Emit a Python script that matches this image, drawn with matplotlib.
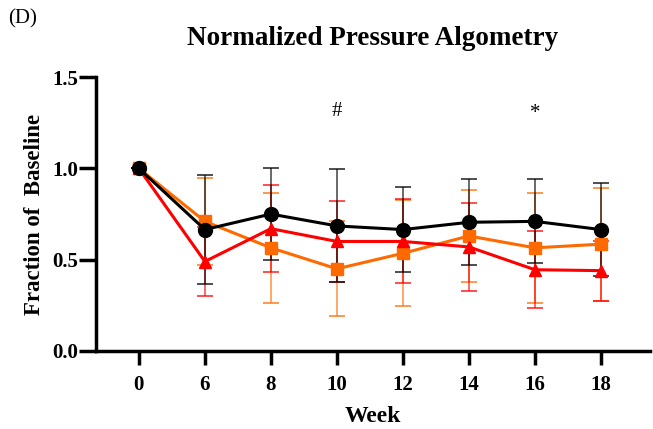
import matplotlib
matplotlib.use("Agg")
import matplotlib.pyplot as plt
import numpy as np

weeks = ["0", "6", "8", "10", "12", "14", "16", "18"]

black_mean = [1.0, 0.665, 0.75, 0.685, 0.665, 0.705, 0.71, 0.665]
black_err = [0.0, 0.30, 0.25, 0.31, 0.235, 0.235, 0.23, 0.255]

orange_mean = [1.0, 0.71, 0.565, 0.45, 0.535, 0.63, 0.565, 0.585]
orange_err = [0.0, 0.24, 0.30, 0.26, 0.29, 0.25, 0.30, 0.31]

red_mean = [1.0, 0.49, 0.67, 0.60, 0.60, 0.57, 0.445, 0.44]
red_err = [0.0, 0.19, 0.24, 0.22, 0.23, 0.24, 0.21, 0.165]

marks = [("#", 3, 1.31), ("*", 6, 1.30)]

plt.rcParams['font.family'] = ['Liberation Serif', 'DejaVu Serif']

fig = plt.figure(figsize=(6.53, 4.29), dpi=100)
ax = fig.add_axes([0.147, 0.182, 0.848, 0.638])

x = np.arange(len(weeks))
series = [
    (orange_mean, orange_err, "#ff6a00", "s", 9),
    (red_mean, red_err, "#ff0000", "^", 9),
    (black_mean, black_err, "black", "o", 10),
]
for mean, err, col, mk, ms in series:
    eb = ax.errorbar(x, mean, yerr=err, color=col, marker=mk, markersize=ms,
                     lw=2.2, elinewidth=1.1, capsize=6, capthick=1.3,
                     ecolor=col)
    for part in eb[1]:
        part.set_alpha(0.75)
    for part in eb[2]:
        part.set_alpha(0.75)

for s, xi, yi in marks:
    ax.text(xi, yi, s, ha="center", va="center", fontsize=15)

ax.set_xlim(-0.65, 7.74)
ax.set_ylim(0, 1.5)
ax.set_xticks(x)
ax.set_xticklabels(weeks)
ax.set_yticks([0.0, 0.5, 1.0, 1.5])
ax.set_yticklabels(["0.0", "0.5", "1.0", "1.5"])

for sp in ["top", "right"]:
    ax.spines[sp].set_visible(False)
for sp in ["left", "bottom"]:
    ax.spines[sp].set_linewidth(2.5)

ax.tick_params(axis="both", width=2.5, length=10, labelsize=15, pad=7)
ax.tick_params(axis="y", length=12, pad=1)
for lab in ax.get_xticklabels() + ax.get_yticklabels():
    lab.set_fontweight("bold")

ax.set_xlabel("Week", fontsize=17, fontweight="bold", labelpad=8)
ax.set_ylabel("Fraction of  Baseline", fontsize=16.5, fontweight="bold", labelpad=5)

fig.text(0.57, 0.91, "Normalized Pressure Algometry", ha="center", va="center",
         fontsize=19.5, fontweight="bold")
fig.text(0.012, 0.955, "(D)", ha="left", va="center", fontsize=15)

fig.savefig("out.png", dpi=100)
